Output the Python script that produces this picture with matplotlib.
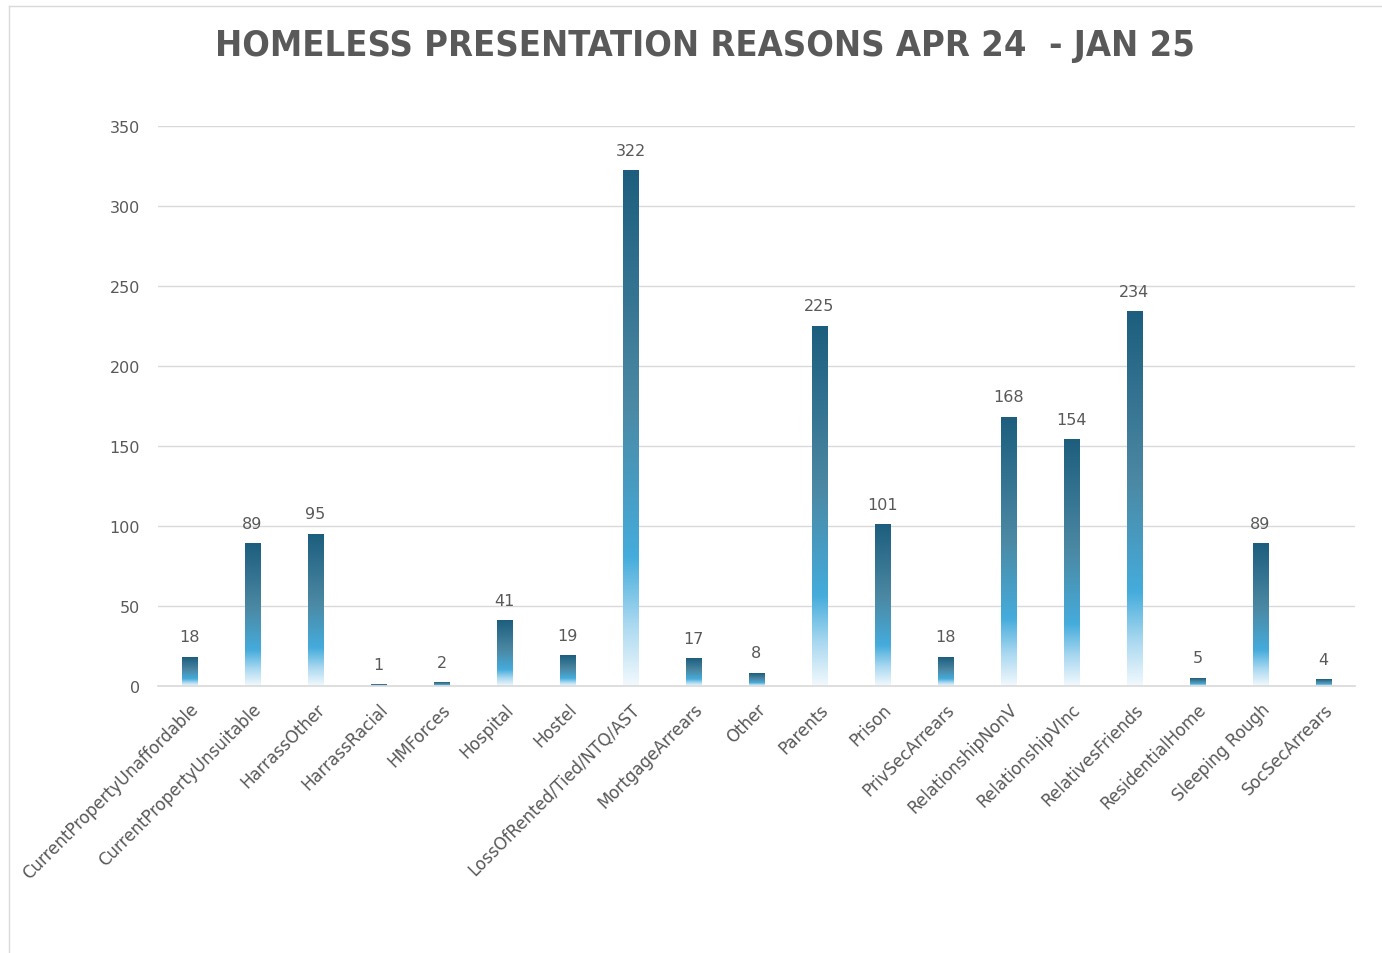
"""Homeless presentation reasons bar chart with gradient bars."""

import matplotlib

matplotlib.use("Agg")
import matplotlib.pyplot as plt
import numpy as np
from matplotlib.colors import LinearSegmentedColormap
from matplotlib.lines import Line2D

categories = [
    "CurrentPropertyUnaffordable", "CurrentPropertyUnsuitable", "HarrassOther",
    "HarrassRacial", "HMForces", "Hospital", "Hostel", "LossOfRented/Tied/NTQ/AST",
    "MortgageArrears", "Other", "Parents", "Prison", "PrivSecArrears",
    "RelationshipNonV", "RelationshipVInc", "RelativesFriends", "ResidentialHome",
    "Sleeping Rough", "SocSecArrears",
]
counts = [18, 89, 95, 1, 2, 41, 19, 322, 17, 8, 225, 101, 18, 168, 154, 234, 5, 89, 4]
y_ticks = [0, 50, 100, 150, 200, 250, 300, 350]

TEXT = "#595959"
GRID = "#d9d9d9"

# bottom -> top gradient, per bar
cmap = LinearSegmentedColormap.from_list(
    "bar",
    [(0.0, "#f2f9fd"), (0.12, "#a9d8f0"), (0.25, "#45acdc"),
     (0.55, "#4b88a3"), (1.0, "#1d5e7e")],
)
grad = np.linspace(0, 1, 256).reshape(-1, 1)

fig = plt.figure(figsize=(13.82, 9.54), dpi=100)
ax = fig.add_axes([158 / 1382, 1 - 687 / 954, (1355 - 158) / 1382, (687 - 127) / 954])

width = 0.24
for i, v in enumerate(counts):
    ax.imshow(grad, cmap=cmap, origin="lower", aspect="auto",
              extent=(i - width / 2, i + width / 2, 0, v), zorder=2)
    ax.text(i, v + 8, str(v), ha="center", va="bottom", fontsize=11.5, color=TEXT)

ax.set_xlim(-0.5, len(categories) - 0.5)
ax.set_ylim(0, 350)
ax.set_yticks(y_ticks)
ax.set_yticklabels([str(t) for t in y_ticks], fontsize=11.5, color=TEXT)
ax.set_xticks(range(len(categories)))
ax.set_xticklabels(categories, rotation=45, ha="right", rotation_mode="anchor",
                   fontsize=12, color=TEXT)
ax.tick_params(axis="both", length=0)
ax.tick_params(axis="y", pad=13)
ax.tick_params(axis="x", pad=10)
ax.grid(axis="y", color=GRID, linewidth=1, zorder=0)
ax.set_axisbelow(True)
for side in ["top", "right", "left"]:
    ax.spines[side].set_visible(False)
ax.spines["bottom"].set_color(GRID)
ax.spines["bottom"].set_linewidth(1.2)

fig.text(705 / 1382, 1 - 46 / 954, "HOMELESS PRESENTATION REASONS APR 24  - JAN 25",
         ha="center", va="center", fontsize=26, fontweight="bold", color=TEXT,
         family="DejaVu Sans", fontstretch="condensed")

# chart frame edges
fig.add_artist(Line2D([9 / 1382, 9 / 1382], [0, 1 - 7 / 954], transform=fig.transFigure,
                      color=GRID, linewidth=1))
fig.add_artist(Line2D([9 / 1382, 1], [1 - 7 / 954, 1 - 7 / 954], transform=fig.transFigure,
                      color=GRID, linewidth=1))

fig.savefig("out.png", dpi=100)
